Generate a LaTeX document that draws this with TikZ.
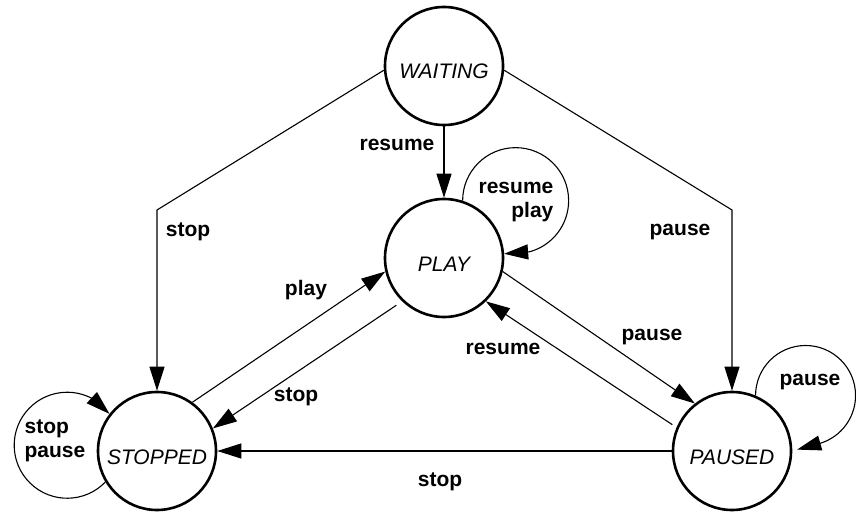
\documentclass[tikz,border=0pt]{standalone}
\usepackage{fontspec}
\setsansfont{Liberation Sans}
\usetikzlibrary{arrows.meta}
\begin{document}
\begin{tikzpicture}[x=1pt,y=1pt,
  state/.style={circle,draw,line width=2.6pt,minimum size=118pt,inner sep=0pt,
    text height=26pt,text depth=0pt,
    font=\sffamily\itshape\fontsize{21}{25}\selectfont},
  lbl/.style={font=\sffamily\bfseries\fontsize{21}{24}\selectfont,inner sep=0pt},
  edge/.style={line width=1.1pt,-{Triangle[length=24pt,width=15pt]}},
]
\useasboundingbox (0,0) rectangle (856,512);
\node[state] (WAITING) at (444,446) {WAITING};
\node[state] (PLAY) at (444,254) {PLAY};
\node[state] (STOPPED) at (157,61) {STOPPED};
\node[state] (PAUSED) at (732,61) {PAUSED};
\coordinate (b1) at (157,302);
\coordinate (b2) at (732,302);

% edges
\draw[edge] (WAITING) -- (PLAY);
\draw[edge] (WAITING.184) -- (b1) -- (STOPPED);
\draw[edge] (WAITING.356) -- (b2) -- (PAUSED);
\draw[edge] (STOPPED.54) -- (PLAY.193);
\draw[edge,shorten <=7pt] (PLAY.226) -- (STOPPED.22);
\draw[edge] (PLAY.347) -- (PAUSED.128);
\draw[edge,shorten <=5pt] (PAUSED.157) -- (PLAY.314);
\draw[edge] (PAUSED) -- (STOPPED);

% self loops
\draw[edge] (PLAY.72) arc[start angle=180,end angle=-75,radius=53] -- (PLAY.4);
\draw[edge,shorten >=5pt] (PAUSED.67) arc[start angle=180,end angle=-80,radius=50] -- (PAUSED.0);
\draw[edge] (STOPPED.211) arc[start angle=-44,end angle=-300,radius=53] -- (STOPPED.142);

% labels
\node[lbl] (l1) at (397,367) {resume};
\node[lbl] (l2) at (188,280) {stop};
\node[lbl] (l3) at (680,280) {pause};
\node[lbl] (l4) at (306,222) {play};
\node[lbl] (l5) at (296,115) {stop};
\node[lbl] (l6) at (652,175) {pause};
\node[lbl] (l7) at (503,163) {resume};
\node[lbl] (l8) at (440,30) {stop};
\node[lbl,align=right] (l9) at (516,310) {resume\\play};
\node[lbl] (l10) at (810,130) {pause};
\node[lbl,align=left] (l11) at (55,71) {stop\\pause};
\end{tikzpicture}
\end{document}
